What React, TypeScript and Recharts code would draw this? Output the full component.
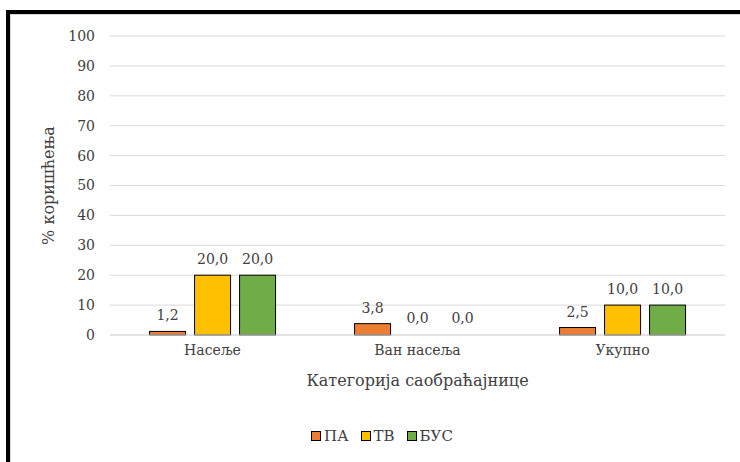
import React from 'react';
import { BarChart, Bar, XAxis, YAxis, CartesianGrid, Legend, LabelList, Label } from 'recharts';

const categories = ['Насеље', 'Ван насеља', 'Укупно'];
const paValues = [1.2, 3.8, 2.5];
const tvValues = [20.0, 0.0, 10.0];
const busValues = [20.0, 0.0, 10.0];
const yTicks = [0, 10, 20, 30, 40, 50, 60, 70, 80, 90, 100];

const seriesKeys = ['pa', 'tv', 'bus'];
const seriesNames = ['ПА', 'ТВ', 'БУС'];
const seriesColors = ['#ED7D31', '#FFC000', '#70AD47'];

const data = categories.map((c, i) => ({
  name: c,
  pa: paValues[i],
  tv: tvValues[i],
  bus: busValues[i],
}));

const FONT = '"DejaVu Serif", serif';
const TXT = '#404040';
const fmt = (v: any) => Number(v).toFixed(1).replace('.', ',');

const renderLegend = () => (
  <div style={{ display: 'flex', justifyContent: 'center', alignItems: 'center', fontFamily: FONT, fontSize: 15, color: TXT }}>
    {seriesNames.map((n, i) => (
      <div key={n} style={{ display: 'flex', alignItems: 'center', marginRight: i < seriesNames.length - 1 ? 12 : 0 }}>
        <span style={{ display: 'inline-block', width: 8, height: 8, background: seriesColors[i], border: '1px solid #000', marginRight: 3 }} />
        <span>{n}</span>
      </div>
    ))}
  </div>
);

const YLabel = (props: any) => {
  const vb = props.viewBox || {};
  const cx = 48;
  const cy = vb.y + vb.height / 2;
  return (
    <text x={cx} y={cy} transform={`rotate(-90, ${cx}, ${cy})`} textAnchor="middle" dominantBaseline="central" fill={TXT} fontFamily={FONT} fontSize={16}>
      % коришћења
    </text>
  );
};

const makeShape = (key: string) => (props: any) => {
  const v = props.payload ? props.payload[key] : 0;
  if (!v) return <g />;
  return <rect x={props.x} y={props.y} width={props.width} height={props.height} fill={props.fill} stroke="#000" strokeWidth={1} />;
};

export default function App() {
  return (
    <div style={{ position: 'absolute', left: 0, top: 0, width: 740, height: 462, overflow: 'hidden', background: '#fff' }}>
      <div style={{ position: 'absolute', left: 6, top: 10, width: 900, height: 700, border: '4px solid #000', boxSizing: 'border-box' }} />
      <div style={{ position: 'absolute', left: 10, top: 14, width: 900, height: 700, borderLeft: '1px solid #d9d9d9', borderTop: '1px solid #d9d9d9' }} />
      <div style={{ position: 'absolute', left: 0, top: 0 }}>
        <BarChart
          width={740}
          height={462}
          data={data}
          margin={{ top: 36, right: 15, left: 0, bottom: 0 }}
          barCategoryGap="19.3%"
          barGap={9}
        >
          <CartesianGrid vertical={false} stroke="#d9d9d9" strokeWidth={1} />
          <XAxis
            dataKey="name"
            height={127}
            axisLine={{ stroke: '#d9d9d9' }}
            tickLine={false}
            tick={{ fill: TXT, fontFamily: FONT, fontSize: 14 }}
            tickMargin={4}
          >
            <Label value="Категорија саобраћајнице" position="insideTop" offset={40} fill={TXT} fontFamily={FONT} fontSize={16} />
          </XAxis>
          <YAxis
            width={110}
            domain={[0, 100]}
            ticks={yTicks}
            interval={0}
            axisLine={false}
            tickLine={false}
            tick={{ fill: TXT, fontFamily: FONT, fontSize: 14 }}
            tickMargin={9}
            label={<YLabel />}
          />
          <Legend
            verticalAlign="middle"
            layout="horizontal"
            content={renderLegend}
            wrapperStyle={{ top: 427, left: 292, width: 180 }}
          />
          {seriesKeys.map((k, i) => (
            <Bar key={k} dataKey={k} name={seriesNames[i]} fill={seriesColors[i]} stroke="#000" strokeWidth={1} minPointSize={1} shape={makeShape(k)} isAnimationActive={false}>
              <LabelList dataKey={k} position="top" offset={11} formatter={fmt} fill={TXT} fontFamily={FONT} fontSize={14} />
            </Bar>
          ))}
        </BarChart>
      </div>
    </div>
  );
}
